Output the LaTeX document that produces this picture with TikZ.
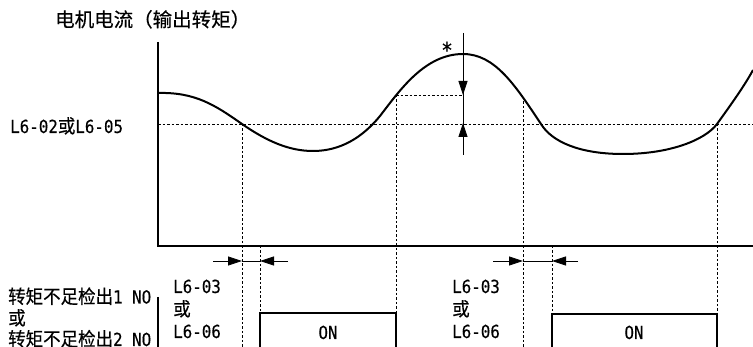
\documentclass[tikz,border=0pt]{standalone}
\usepackage{fontspec}
\setmainfont[FakeStretch=0.88,FakeBold=0.3]{DejaVu Sans Mono}
\newfontfamily\cjk[FakeBold=0.4,FakeStretch=0.92]{Noto Sans CJK SC}
\newfontfamily\cjktitle[FakeBold=0.4]{Noto Sans CJK SC}
\newcommand{\zh}[1]{{\fontsize{19pt}{22pt}\selectfont\cjk #1}}
\usetikzlibrary{arrows.meta}
\begin{document}
\begin{tikzpicture}[x=1pt,y=-1pt,
  lbl/.style={anchor=base west,inner sep=0pt,font=\fontsize{18pt}{21pt}\selectfont},
  axisline/.style={line width=2.2pt},
  curveline/.style={line width=2pt,line join=round},
  guide/.style={line width=0.8pt,dash pattern=on 2.5pt off 2pt},
  dim/.style={line width=0.8pt,-{Triangle[length=14pt,width=9pt]}},
  sigbox/.style={line width=2pt}]
\useasboundingbox (0,0) rectangle (753,347);
% coordinates
\coordinate (o) at (158,246);
\coordinate (ytop) at (158,42);
\coordinate (xend) at (753,246);
\coordinate (thL) at (158,124);
\coordinate (thR) at (753,124);
% texts
\node[lbl] (title) at (55,26.7) {\fontsize{19.5pt}{22pt}\selectfont\cjktitle 电机电流（输出转矩）};
\node[lbl] (thr) at (10,133) {L6-02\zh{或}L6-05};
\node[lbl,font=\fontsize{22pt}{24pt}\selectfont] (star) at (441,58) {*};
\node[lbl] (s1) at (8,303.5) {\zh{转矩不足检出}1 NO};
\node[lbl] (s2) at (8,325) {\zh{或}};
\node[lbl] (s3) at (8,346) {\zh{转矩不足检出}2 NO};
\node[lbl] (a1) at (173,293) {L6-03};
\node[lbl] (a2) at (173,316) {\zh{或}};
\node[lbl] (a3) at (173,338) {L6-06};
\node[lbl] (b1) at (452,293) {L6-03};
\node[lbl] (b2) at (452,316) {\zh{或}};
\node[lbl] (b3) at (452,338) {L6-06};
\node[anchor=base,inner sep=0pt,font=\fontsize{18pt}{21pt}\selectfont] (on1) at (328,339) {ON};
\node[anchor=base,inner sep=0pt,font=\fontsize{18pt}{21pt}\selectfont] (on2) at (634,339) {ON};
% guides
\draw[guide] (thL) -- (thR);
\coordinate (p1) at (242,124);
\coordinate (p2) at (396,95);
\coordinate (pk) at (463,54);
\coordinate (p3) at (523,97);
\coordinate (p4) at (717,124);
\draw[guide] (p2) -- (463,95);
\draw[guide] (p1) -- (242,347);
\draw[guide] (260,246) -- (260,313);
\draw[guide] (p2) -- (396,313);
\draw[guide] (p3) -- (523,347);
\draw[guide] (552,246) -- (552,314);
\draw[guide] (p4) -- (717,314);
% curve
\draw[curveline] (158,93) .. controls (195,92) and (215,105) .. (p1)
  .. controls (268,142) and (290,151) .. (313,151)
  .. controls (340,151) and (362,138) .. (380,116)
  .. controls (400,90) and (425,54) .. (pk)
  .. controls (495,54) and (515,85) .. (541,124)
  .. controls (552,142) and (580,154) .. (623,154)
  .. controls (670,154) and (705,140) .. (p4)
  .. controls (730,106) and (745,85) .. (753,70);
% axes
\draw[axisline] (ytop) -- (o) -- (xend);
\draw[axisline] (158,297) -- (158,350);
% peak dimension
\draw[line width=0.8pt] (463,33) -- (463,155);
\draw[dim] (463,60) -- (463,95);
\draw[dim] (463,150) -- (463,123);
% delay dimensions
\draw[dim] (213,261) -- (242,261);
\draw[dim] (288,261) -- (260,261);
\draw[line width=0.8pt] (242,261) -- (260,261);
\draw[dim] (493,261) -- (523,261);
\draw[dim] (578,261) -- (552,261);
\draw[line width=0.8pt] (523,261) -- (552,261);
% signal boxes
\draw[sigbox] (260,350) -- (260,313) -- (396,313) -- (396,350);
\draw[sigbox] (552,350) -- (552,314) -- (717,314) -- (717,350);
\end{tikzpicture}
\end{document}
